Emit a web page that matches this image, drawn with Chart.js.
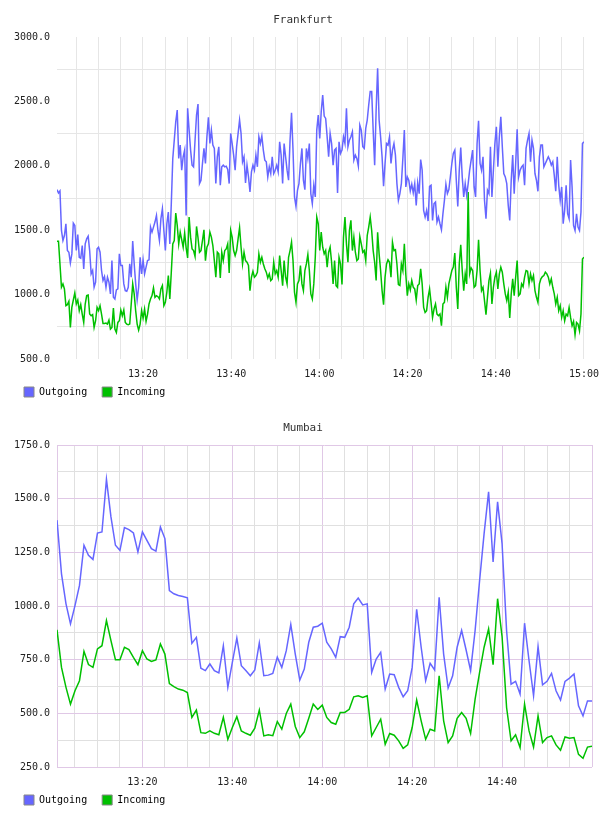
<!DOCTYPE html>
<html>
<head>
<meta charset="utf-8">
<script src="https://cdn.jsdelivr.net/npm/chart.js@4.4.1/dist/chart.umd.min.js"></script>
<style>
  body { margin: 0; background: #fff; }
  canvas { display: block; }
</style>
</head>
<body>
<canvas id="frankfurt" width="608" height="408"></canvas>
<canvas id="mumbai" width="608" height="408"></canvas>
<script>
// times are minutes after 13:00

// Frankfurt: roughly one sample every 20 s, 13:00:30 - 15:00
const frankfurtStart = 0.5;
const frankfurtEnd = 120;
const frankfurtOutgoing = [
  1815,1789,1805,1498,1420,1459,1550,1342,1329,1246,1316,1555,1537,1342,1467,1290,1283,1381,1200,1394,
  1433,1454,1342,1161,1187,1057,1096,1355,1368,1329,1187,1109,1140,1057,1135,1096,1005,1265,979,966,
  1036,1044,1316,1226,1226,1083,1031,1026,1057,1239,1135,1415,1239,1083,958,1057,1290,1161,1270,1161,
  1213,1264,1270,1524,1485,1524,1563,1615,1498,1420,1589,1667,1498,1342,1550,1641,1394,1706,2057,2199,
  2342,2433,2057,2161,1966,2070,2122,1615,2446,2277,2122,2005,1992,2199,2394,2480,1862,1888,2018,2135,
  2018,2225,2376,2173,2277,2161,2135,1862,2070,2148,1849,1992,2005,1992,1997,1971,1862,2251,2173,
  2083,1966,2148,2251,2355,2251,2031,2070,1867,2005,1914,1797,1953,2005,1966,2083,1992,2225,
  2173,2231,2122,2044,2031,1914,1992,1940,2070,1940,1966,2005,1953,2186,2083,1862,2173,2070,1966,
  1888,2199,2412,2122,1758,1685,1810,1862,2018,2135,1888,1815,2135,2057,2173,1784,1706,1849,1758,
  2277,2394,2212,2420,2550,2386,2368,2225,2070,2251,2173,2005,2122,2135,1789,2186,2096,2122,2225,
  2173,2446,2148,2199,2225,2264,2044,2083,2057,1997,2316,2277,2148,2135,2290,2355,2472,2576,2576,
  2277,2005,2433,2758,2355,2225,2070,1841,2018,2173,2161,2225,2018,2122,2173,2083,1862,
  1732,1784,1862,2057,2277,1836,1914,1888,
  1805,1857,1789,1862,1693,1867,1784,2049,1966,1654,1602,1654,1571,1841,1849,1576,1706,
  1719,1563,1602,1550,1503,1628,1732,1857,1784,1815,1914,2018,2096,2122,1888,1685,1966,
  2142,1914,1758,1862,1771,1862,1966,2044,2122,1836,1758,2173,2350,2018,1966,2070,
  1732,1589,1810,1784,2148,1758,1966,2173,2303,1992,2225,2381,2148,1940,1914,1862,1693,
  1576,1888,2083,1784,2018,2283,1914,1966,1992,2005,1849,2135,2199,2251,2031,2199,2135,1940,
  1888,1802,2070,2161,2161,1992,2018,2044,2070,2044,2005,2031,1927,1802,2070,1849,1732,
  1836,1550,1654,1849,1628,1589,2044,1836,1537,1498,1628,1524,1498,1641,2173,2186
];
const frankfurtIncoming = [
  1415,1415,1238,1057,1083,1044,914,922,948,745,901,958,1013,927,958,875,922,849,784,927,
  992,997,849,836,844,745,797,901,875,914,849,776,776,779,771,802,732,745,896,732,
  706,784,797,880,836,880,784,771,766,771,927,1083,1005,875,771,724,771,875,818,888,
  792,849,927,966,992,1052,979,992,984,966,1044,1070,914,940,1018,1148,966,1174,1394,1420,
  1633,1537,1394,1485,1426,1368,1477,1363,1285,1602,1446,1355,1342,1296,1529,1441,1329,1342,1420,
  1503,1264,1368,1394,1485,1446,1381,1264,1135,1329,1316,1129,1329,1264,1342,1355,1394,1168,1498,
  1446,
  1342,1303,1342,1433,1519,1368,1238,1329,1264,1251,1226,1031,1135,1181,1135,1148,1174,1316,
  1251,1290,1238,1200,1174,1129,1161,1109,1122,1251,1161,1187,1135,1303,1187,1070,1264,1135,1083,
  1290,1342,1407,1264,1018,940,1083,1109,1226,1083,1031,1187,1238,1311,1187,1005,966,1083,1290,
  1602,1550,1342,1485,1368,1316,1342,1213,1329,1368,1251,1083,1264,1070,1057,1290,1238,1078,1446,
  1602,1394,1251,1498,1576,1342,1446,1329,1264,1277,1451,1394,1329,1342,1264,1459,1524,1602,1498,
  1342,1251,1109,1483,1316,1187,1031,922,1135,1238,1270,1251,1135,1407,1342,1348,1238,
  1077,1070,1238,1187,1394,1154,992,1083,
  1036,1109,1057,1044,958,1070,1083,1200,1083,901,862,875,979,1044,940,823,888,
  927,849,836,849,758,927,940,1057,979,1083,1135,1187,1213,1322,1057,888,1238,
  1387,1187,1031,1161,1083,1797,1161,1207,1187,1057,1070,1187,1426,1187,1031,1057,
  953,844,979,1109,1166,927,1057,1135,1174,1044,1161,1213,1174,1083,1005,953,1018,
  818,1005,1122,992,1135,1264,992,1005,1083,1062,1135,1187,1181,1083,1161,1109,1148,1031,
  979,940,1083,1122,1140,1148,1174,1161,1135,1083,1122,1057,1005,927,979,875,914,
  823,875,797,849,836,901,823,758,792,688,784,771,719,849,1277,1291
];

// Mumbai: one sample per minute, 13:01 - 15:00
const mumbaiStart = 1;
const mumbaiEnd = 120;
const mumbaiOutgoing = [
  1400,1150,1010,917,1002,1096,1283,1236,1217,1340,1345,1590,1415,1283,1259,1365,1356,1340,1252,1345,
  1306,1267,1256,1368,1314,1072,1057,1049,1044,1038,826,854,710,699,730,699,688,815,621,737,
  850,722,699,675,702,828,675,678,686,761,714,792,914,776,655,706,831,901,906,920,
  831,800,761,857,854,901,1010,1037,1005,1010,691,753,784,613,683,680,621,577,605,714,
  985,808,652,733,702,1041,776,618,675,808,886,795,699,886,1119,1337,1532,1205,1485,1290,
  886,636,649,590,920,745,582,811,633,649,686,605,562,649,664,683,535,488,558,558
];
const mumbaiIncoming = [
  889,714,621,543,605,652,789,727,714,800,815,932,839,750,750,808,797,761,727,792,
  753,742,749,823,776,639,624,613,608,597,481,515,410,407,418,407,400,481,379,434,
  484,418,407,398,431,515,395,400,396,462,426,499,543,439,387,414,477,543,518,538,
  481,457,449,504,504,519,577,582,574,582,395,434,473,356,406,398,372,337,353,434,
  562,465,379,426,418,675,465,364,395,477,504,477,406,566,691,808,893,727,1034,857,
  527,372,400,340,543,418,343,488,364,387,395,353,328,390,384,387,309,291,343,347
];

const FONT = "'DejaVu Sans Mono', monospace";
const OUT_COLOR = '#6666ff';
const IN_COLOR = '#00c000';

function clock(v) {
  const m = 13 * 60 + v;
  const hh = Math.floor(m / 60), mm = m % 60;
  return hh + ':' + String(mm).padStart(2, '0');
}

function series(values, start, end) {
  const step = (end - start) / (values.length - 1);
  return values.map((y, i) => ({ x: start + i * step, y: y }));
}

function range(from, to, step) {
  const out = [];
  for (let v = from; v <= to; v += step) out.push(v);
  return out;
}

// nudge the legend left, and let the time labels spill under the thin x axis box
const layoutTweak = {
  id: 'layoutTweak',
  afterLayout(chart) {
    chart.legend.left = 9;
    chart.scales.x.bottom = chart.scales.x.top + 24;
  }
};

function makeChart(id, cfg) {
  return new Chart(document.getElementById(id), {
    type: 'line',
    data: {
      datasets: [
        { label: 'Outgoing', data: cfg.outgoing, borderColor: OUT_COLOR, backgroundColor: OUT_COLOR,
          borderWidth: 1.5, pointRadius: 0, tension: 0 },
        { label: 'Incoming', data: cfg.incoming, borderColor: IN_COLOR, backgroundColor: IN_COLOR,
          borderWidth: 1.5, pointRadius: 0, tension: 0 }
      ]
    },
    plugins: [layoutTweak],
    options: {
      responsive: false,
      animation: false,
      events: [],
      layout: { autoPadding: false, padding: { left: 14, right: 16, top: 0, bottom: 1 } },
      plugins: {
        title: {
          display: true, text: cfg.title, color: '#333',
          font: { family: FONT, size: 11, weight: 'normal' },
          padding: { top: 13.4, bottom: 10.4 }
        },
        legend: {
          position: 'bottom', align: 'start',
          labels: {
            boxWidth: 10, boxHeight: 10, padding: 15, color: '#222',
            font: { family: FONT, size: 10 },
            generateLabels: chart => chart.data.datasets.map((ds, i) => ({
              text: ds.label, fillStyle: ds.borderColor, strokeStyle: '#888',
              lineWidth: 1, datasetIndex: i, hidden: false
            }))
          }
        },
        tooltip: { enabled: false }
      },
      scales: {
        x: {
          type: 'linear', min: cfg.xMin, max: cfg.xMax,
          afterBuildTicks: s => { s.ticks = cfg.xTicks.map(v => ({ value: v })); },
          afterFit: s => { s.height = 13; },
          border: { display: false },
          grid: { color: cfg.xGrid, drawTicks: false },
          ticks: {
            autoSkip: false, maxRotation: 0, padding: 9, color: '#222',
            font: { family: FONT, size: 10 },
            callback: v => (v % 20 === 0 && v <= cfg.lastLabel) ? clock(v) : ''
          }
        },
        y: {
          min: cfg.yMin, max: cfg.yMax,
          afterBuildTicks: s => { s.ticks = cfg.yTicks.map(v => ({ value: v })); },
          afterFit: s => { s.width = 43; },
          border: { display: false },
          grid: { color: cfg.yGrid, drawTicks: false },
          ticks: {
            padding: 7, color: '#222',
            font: { family: FONT, size: 10 },
            callback: v => v % cfg.yLabelStep === 0 ? v.toFixed(1) : ''
          }
        }
      }
    }
  });
}

const GREY = '#e6e6e6';
const PURPLE = '#e0c8e6';
const MINOR = '#e0e0e0';

makeChart('frankfurt', {
  title: 'Frankfurt',
  outgoing: series(frankfurtOutgoing, frankfurtStart, frankfurtEnd),
  incoming: series(frankfurtIncoming, frankfurtStart, frankfurtEnd),
  xMin: frankfurtStart, xMax: frankfurtEnd,
  xTicks: range(5, 120, 5), lastLabel: 120,
  xGrid: GREY,
  yMin: 500, yMax: 3000, yTicks: range(500, 3000, 250), yLabelStep: 500,
  yGrid: ctx => ctx.tick.value % 500 === 0 ? 'rgba(0,0,0,0)' : GREY
});

makeChart('mumbai', {
  title: 'Mumbai',
  outgoing: series(mumbaiOutgoing, mumbaiStart, mumbaiEnd),
  incoming: series(mumbaiIncoming, mumbaiStart, mumbaiEnd),
  xMin: mumbaiStart, xMax: mumbaiEnd,
  xTicks: [1].concat(range(5, 115, 5), [120]), lastLabel: 100,
  xGrid: ctx => (ctx.tick.value % 20 === 0 || ctx.tick.value === 1 || ctx.tick.value === 120) ? PURPLE : MINOR,
  yMin: 250, yMax: 1750, yTicks: range(250, 1750, 125), yLabelStep: 250,
  yGrid: ctx => ctx.tick.value % 250 === 0 ? PURPLE : MINOR
});
</script>
</body>
</html>
